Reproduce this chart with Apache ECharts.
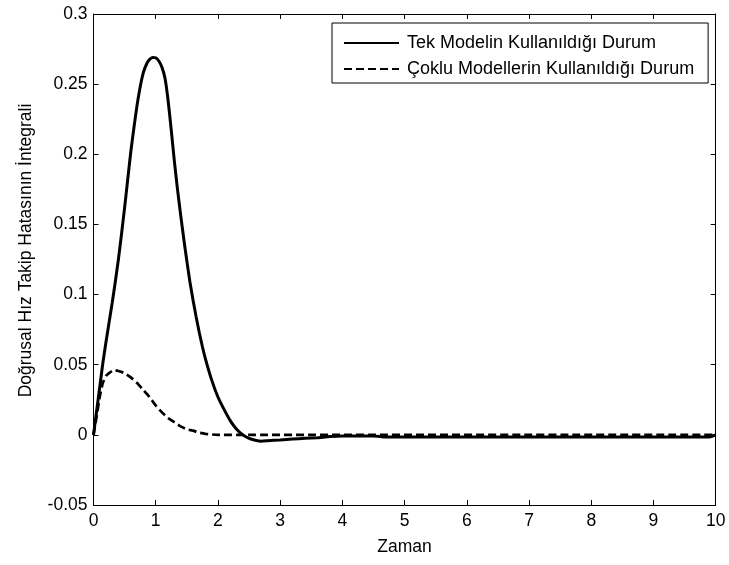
<!DOCTYPE html>
<html>
<head>
<meta charset="utf-8">
<script src="https://cdn.jsdelivr.net/npm/echarts@6/dist/echarts.min.js"></script>
<style>html,body{margin:0;padding:0;background:#fff}#c{width:729px;height:565px}</style>
</head>
<body>
<div id="c"></div>
<script>
const seriesNames = ['Tek Modelin Kullanıldığı Durum', 'Çoklu Modellerin Kullanıldığı Durum'];
const xTicks = [0,1,2,3,4,5,6,7,8,9,10];
const yTicks = [-0.05,0,0.05,0.1,0.15,0.2,0.25,0.3];

const tekTime = [0,0.05,0.1,0.15,0.2,0.25,0.3,0.35,0.4,0.45,0.5,0.55,0.6,0.65,0.7,0.75,0.8,0.85,0.9,0.95,1.0,1.05,1.1,1.15,1.2,1.25,1.3,1.35,1.4,1.45,1.5,1.55,1.6,1.65,1.7,1.75,1.8,1.9,2.0,2.1,2.2,2.3,2.4,2.5,2.6,2.7,2.8,3.0,3.2,3.4,3.6,3.8,4.0,4.5,4.7,5,6,7,8,9,9.9,10];
const tekValues = [0,0.017,0.034,0.051,0.066,0.08,0.094,0.109,0.125,0.143,0.162,0.182,0.202,0.219,0.235,0.248,0.258,0.264,0.2675,0.269,0.2688,0.2665,0.262,0.254,0.238,0.217,0.195,0.175,0.157,0.14,0.124,0.109,0.096,0.084,0.073,0.063,0.054,0.039,0.027,0.018,0.01,0.004,0.0,-0.0025,-0.0038,-0.0045,-0.0042,-0.0036,-0.003,-0.0025,-0.002,-0.0012,-0.0008,-0.0008,-0.0015,-0.0015,-0.0015,-0.0015,-0.0015,-0.0015,-0.0015,0];

const cokluTime = [0,0.05,0.1,0.15,0.2,0.25,0.3,0.35,0.4,0.5,0.6,0.7,0.8,0.9,1.0,1.1,1.2,1.3,1.4,1.5,1.6,1.7,1.8,2.0,10];
const cokluValues = [0,0.013,0.027,0.037,0.042,0.044,0.0455,0.046,0.0455,0.044,0.041,0.037,0.032,0.027,0.021,0.016,0.012,0.009,0.006,0.004,0.003,0.0015,0.0007,0,0];

const FONT = 'Liberation Sans, Arial, sans-serif';
const chart = echarts.init(document.getElementById('c'), null, {renderer:'canvas'});
const fmtY = v => String(parseFloat(v.toFixed(2)));
const baseAxis = {
  axisLine:{show:true, onZero:false, lineStyle:{color:'#000', width:1}},
  axisTick:{show:true, inside:true, length:5, lineStyle:{color:'#000', width:1}},
  splitLine:{show:false}
};
chart.setOption({
  animation:false,
  backgroundColor:'#fff',
  grid:{left:93.5, right:13.3, top:14, bottom:60, containLabel:false},
  legend:{
    orient:'vertical', left:332, top:23,
    padding:[11,14,5,11], itemGap:8,
    itemWidth:55, itemHeight:14,
    borderColor:'#000', borderWidth:1, backgroundColor:'#fff',
    itemStyle:{opacity:0},
    textStyle:{fontFamily:FONT, fontSize:18, color:'#000', padding:[0,0,0,3]},
    data:seriesNames
  },
  xAxis:[
    Object.assign({}, baseAxis, {type:'value', position:'bottom', min:xTicks[0], max:xTicks[xTicks.length-1], interval:1,
      name:'Zaman', nameLocation:'middle', nameGap:33,
      nameTextStyle:{fontFamily:FONT, fontSize:17.5, color:'#000'},
      axisLabel:{fontFamily:FONT, fontSize:17.5, color:'#000', margin:7}}),
    Object.assign({}, baseAxis, {type:'value', position:'top', min:xTicks[0], max:xTicks[xTicks.length-1], interval:1,
      axisLabel:{show:false}})
  ],
  yAxis:[
    Object.assign({}, baseAxis, {type:'value', position:'left', min:yTicks[0], max:yTicks[yTicks.length-1], interval:0.05,
      name:'Doğrusal Hız Takip Hatasının İntegrali', nameLocation:'middle', nameGap:58, nameRotate:90,
      nameTextStyle:{fontFamily:FONT, fontSize:17.5, color:'#000', padding:[0,0,0,18]},
      axisLabel:{fontFamily:FONT, fontSize:17.5, color:'#000', margin:6, formatter:fmtY}}),
    Object.assign({}, baseAxis, {type:'value', position:'right', min:yTicks[0], max:yTicks[yTicks.length-1], interval:0.05,
      axisLabel:{show:false}})
  ],
  series:[
    {name:seriesNames[0], type:'line', symbol:'none', smooth:0.15, xAxisIndex:0, yAxisIndex:0,
      lineStyle:{color:'#000', width:3, type:'solid'}, itemStyle:{color:'#000'},
      data:tekTime.map((t,i)=>[t,tekValues[i]]), z:3},
    {name:seriesNames[1], type:'line', symbol:'none', smooth:0.15, xAxisIndex:0, yAxisIndex:0,
      lineStyle:{color:'#000', width:2.7, type:[8,4]}, itemStyle:{color:'#000'},
      data:cokluTime.map((t,i)=>[t,cokluValues[i]]), z:2}
  ]
});
</script>
</body>
</html>
